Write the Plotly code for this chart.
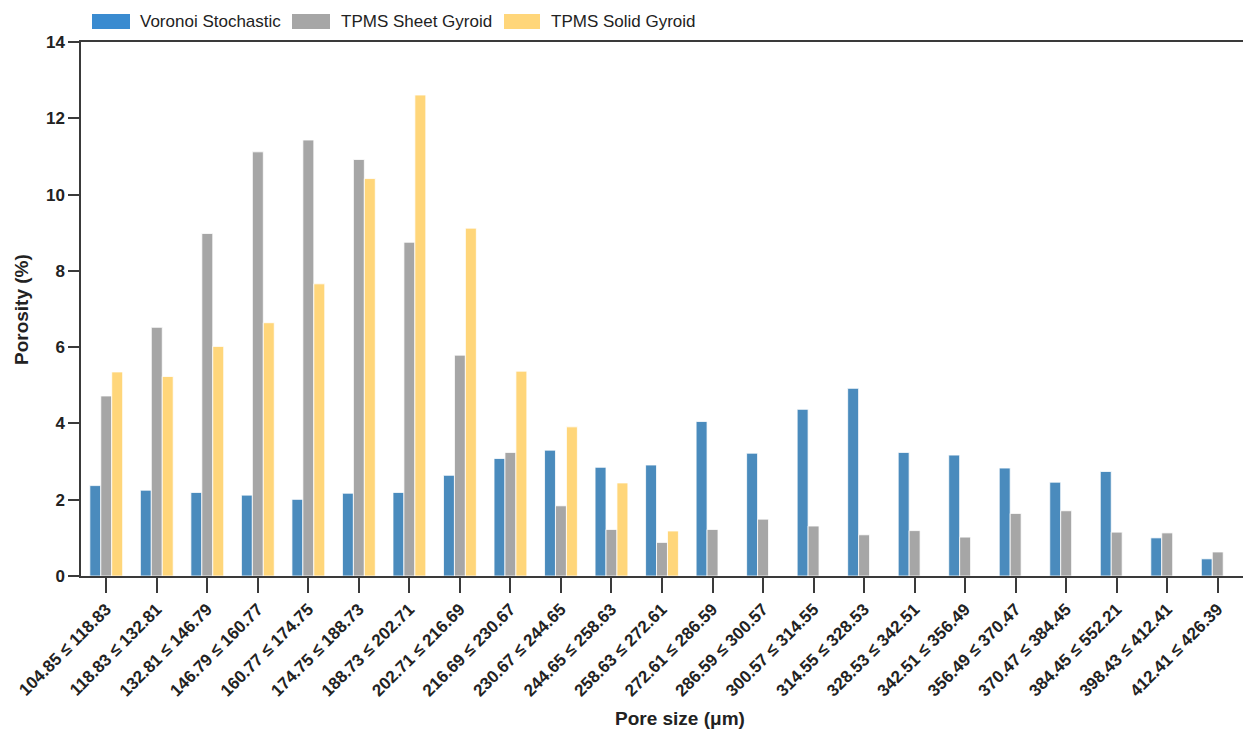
import plotly.graph_objects as go

# Pore-size bins (µm)
bins = [
    "104.85 ≤ 118.83", "118.83 ≤ 132.81", "132.81 ≤ 146.79", "146.79 ≤ 160.77",
    "160.77 ≤ 174.75", "174.75 ≤ 188.73", "188.73 ≤ 202.71", "202.71 ≤ 216.69",
    "216.69 ≤ 230.67", "230.67 ≤ 244.65", "244.65 ≤ 258.63", "258.63 ≤ 272.61",
    "272.61 ≤ 286.59", "286.59 ≤ 300.57", "300.57 ≤ 314.55", "314.55 ≤ 328.53",
    "328.53 ≤ 342.51", "342.51 ≤ 356.49", "356.49 ≤ 370.47", "370.47 ≤ 384.45",
    "384.45 ≤ 552.21", "398.43 ≤ 412.41", "412.41 ≤ 426.39",
]

# Porosity (%) per bin
voronoi_stochastic = [2.37, 2.25, 2.19, 2.12, 2.01, 2.17, 2.19, 2.64, 3.08, 3.30,
                      2.85, 2.91, 4.05, 3.22, 4.37, 4.92, 3.24, 3.17, 2.83, 2.46,
                      2.74, 1.00, 0.45]
tpms_sheet_gyroid = [4.72, 6.52, 8.98, 11.12, 11.43, 10.92, 8.75, 5.79, 3.24, 1.84,
                     1.22, 0.88, 1.22, 1.49, 1.31, 1.08, 1.19, 1.02, 1.64, 1.71,
                     1.15, 1.13, 0.63]
tpms_solid_gyroid = [5.35, 5.23, 6.02, 6.64, 7.66, 10.42, 12.61, 9.12, 5.37, 3.91,
                     2.44, 1.18, None, None, None, None, None, None, None, None,
                     None, None, None]

series_names = ["Voronoi Stochastic", "TPMS Sheet Gyroid", "TPMS Solid Gyroid"]
y_ticks = [0, 2, 4, 6, 8, 10, 12, 14]

bar_colors = ["#4a8bbd", "#a6a6a6", "#ffd67a"]
swatch_colors = ["#3a8bd0", "#a6a6a6", "#ffd67a"]

W, H = 1243, 733
L, R, T, B = 81, 0, 42, 157
plot_w = W - L - R
plot_h = H - T - B

AXIS = "#3a3a3a"
FONT = "Liberation Sans, Arial, sans-serif"

fig = go.Figure()
for name, vals, col in zip(series_names,
                           [voronoi_stochastic, tpms_sheet_gyroid, tpms_solid_gyroid],
                           bar_colors):
    fig.add_trace(go.Bar(
        x=list(range(len(bins))), y=vals, name=name,
        marker=dict(color=col, line=dict(color="white", width=0.8)),
        showlegend=False,
    ))


def px_x(px):
    return (px - L) / plot_w


def px_y(py):
    return (H - B - py) / plot_h


# Legend drawn as wide swatches with labels across the top
shapes = []
annotations = []
legend_items = [(92, 130, 138), (292, 330, 339), (504, 540, 549)]
for (x0, x1, tx), name, col in zip(legend_items, series_names, swatch_colors):
    shapes.append(dict(type="rect", xref="paper", yref="paper",
                       x0=px_x(x0), x1=px_x(x1), y0=px_y(29), y1=px_y(14),
                       fillcolor=col, line=dict(width=0)))
    annotations.append(dict(text=name, xref="paper", yref="paper",
                            x=px_x(tx), y=px_y(21.5), xanchor="left", yanchor="middle",
                            showarrow=False, font=dict(size=17, color="#222", family=FONT)))

# Axis titles
annotations.append(dict(text="<b>Pore size (μm)</b>", xref="paper", yref="paper",
                        x=px_x(680), y=px_y(718), xanchor="center", yanchor="middle",
                        showarrow=False, font=dict(size=19, color="#222", family=FONT)))
annotations.append(dict(text="<b>Porosity (%)</b>", xref="paper", yref="paper",
                        x=px_x(21), y=px_y(310), xanchor="center", yanchor="middle",
                        textangle=-90, showarrow=False,
                        font=dict(size=19, color="#222", family=FONT)))

fig.update_layout(
    width=W, height=H,
    margin=dict(l=L, r=R, t=T, b=B, autoexpand=False),
    paper_bgcolor="white", plot_bgcolor="white",
    barmode="group", bargap=0.35, bargroupgap=0.0,
    font=dict(family=FONT, color="#222"),
    shapes=shapes, annotations=annotations,
    xaxis=dict(
        range=[-0.5, len(bins) - 0.5],
        tickmode="array", tickvals=list(range(len(bins))),
        ticktext=[f"<b>{b}</b>" for b in bins],
        tickangle=-45, tickfont=dict(size=17, color="#222", family=FONT),
        ticks="outside", ticklen=15, tickwidth=1.5, tickcolor=AXIS,
        showline=True, linecolor=AXIS, linewidth=1.5, mirror=True,
        showgrid=False, zeroline=False, automargin=False,
    ),
    yaxis=dict(
        range=[0, 14], tickmode="array", tickvals=y_ticks,
        ticktext=[f"<b>{v}</b>" for v in y_ticks],
        tickfont=dict(size=17, color="#222", family=FONT),
        ticks="outside", ticklen=11, tickwidth=1.5, tickcolor=AXIS,
        showline=True, linecolor=AXIS, linewidth=1.5,
        showgrid=False, zeroline=False, automargin=False,
    ),
)

fig.write_html("out.html")
